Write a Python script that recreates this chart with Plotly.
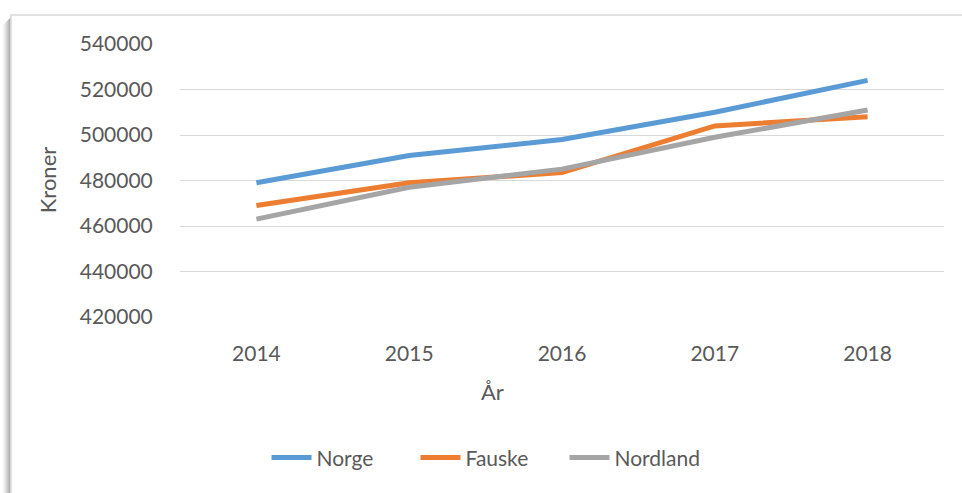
import plotly.graph_objects as go

years = ['2014', '2015', '2016', '2017', '2018']
norge = [479000, 491000, 498000, 510000, 524000]
fauske = [469000, 479000, 483500, 504000, 508000]
nordland = [463000, 477000, 485000, 499000, 511000]

y_ticks = [420000, 440000, 460000, 480000, 500000, 520000, 540000]

W, H = 962, 493
L, R, T, B = 180, 18, 43.5, 176
PW, PH = W - L - R, H - T - B

TEXT = '#595959'
FONT = 'Lato'


def px_x(x):
    return (x - L) / PW


def px_y(y):
    return (H - B - y) / PH


fig = go.Figure()
for name, vals, col in [('Norge', norge, '#5B9BD5'),
                        ('Fauske', fauske, '#ED7D31'),
                        ('Nordland', nordland, '#A5A5A5')]:
    fig.add_trace(go.Scatter(x=years, y=vals, name=name, mode='lines',
                             line=dict(color=col, width=5)))

shapes = []
# left drop shadow of the chart frame
for i, c in enumerate(['#f4f4f4', '#ececec', '#e2e2e2', '#d6d6d6', '#cacaca', '#bdbdbd', '#b0b0b0', '#c8c8c8']):
    x = 3 + i
    shapes.append(dict(type='rect', xref='paper', yref='paper',
                       x0=px_x(x), x1=px_x(x + 1), y0=px_y(H + 5), y1=px_y(17 + (7 - i)),
                       line=dict(width=0), fillcolor=c, layer='below'))
# frame
shapes.append(dict(type='rect', xref='paper', yref='paper',
                   x0=px_x(11), x1=px_x(W + 10), y0=px_y(H + 10), y1=px_y(14.5),
                   line=dict(color='#d9d9d9', width=1.5), fillcolor='white', layer='below'))

fig.update_layout(
    width=W, height=H,
    margin=dict(l=L, r=R, t=T, b=B),
    paper_bgcolor='white', plot_bgcolor='white',
    font=dict(family=FONT, size=21, color=TEXT),
    shapes=shapes,
    showlegend=True,
    legend=dict(orientation='h', x=px_x(490), xanchor='center', y=px_y(458), yanchor='middle',
                font=dict(size=21, color=TEXT), itemwidth=40, entrywidth=94,
                bgcolor='rgba(0,0,0,0)'),
    annotations=[
        dict(text='Kroner', xref='paper', yref='paper', x=px_x(47), y=px_y(180), textangle=-90,
             showarrow=False, xanchor='center', yanchor='middle', font=dict(size=22, color=TEXT)),
        dict(text='År', xref='paper', yref='paper', x=px_x(492), y=px_y(392),
             showarrow=False, xanchor='center', yanchor='middle', font=dict(size=22, color=TEXT)),
    ],
)
fig.update_xaxes(type='category', range=[-0.5, 4.5], showgrid=False, zeroline=False, showline=False,
                 ticks='outside', ticklen=0, ticklabelstandoff=18,
                 tickfont=dict(size=21, color=TEXT))
fig.update_yaxes(range=[420000, 540000], tickvals=y_ticks, ticktext=[str(v) for v in y_ticks],
                 showgrid=True, gridcolor='#d9d9d9', gridwidth=1.3, zeroline=False, showline=False,
                 ticks='outside', ticklen=0, ticklabelstandoff=22,
                 tickfont=dict(size=21, color=TEXT))

fig.write_html('out.html', config={'displayModeBar': False},
               post_script="document.body.style.margin='0';document.body.style.overflow='hidden';")
